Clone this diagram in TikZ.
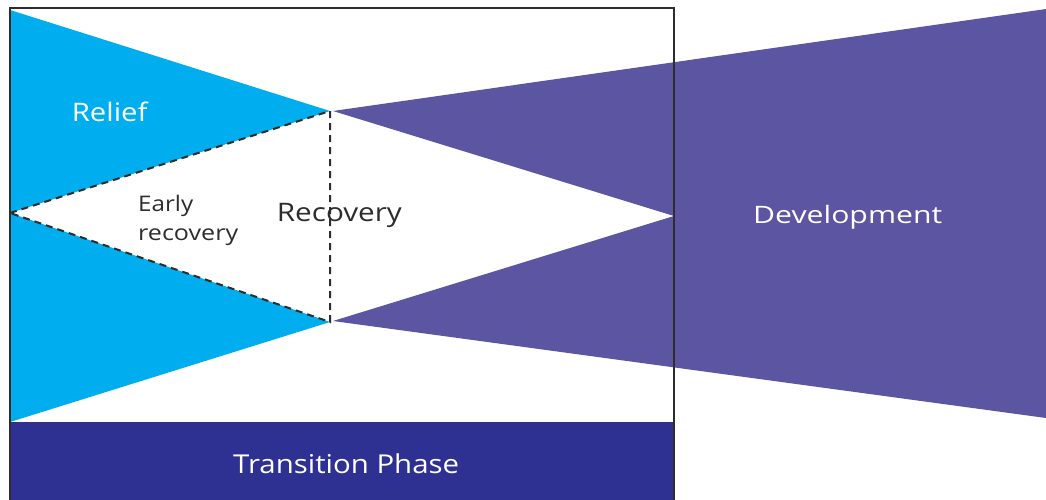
\documentclass[tikz,border=0pt]{standalone}
\usepackage{fontspec}
\setmainfont{Open Sans}
\definecolor{cyanfill}{RGB}{0,174,239}
\definecolor{purplefill}{RGB}{91,85,162}
\definecolor{navyfill}{RGB}{46,49,146}
\definecolor{linegray}{RGB}{45,45,45}
\newcommand{\fitw}[3]{\resizebox{#1pt}{\height}{\fontsize{#2}{#2}\selectfont #3}}
\begin{document}
\begin{tikzpicture}[x=1pt,y=-1pt,
  lbl/.style={inner sep=0pt,anchor=base west},
  wlbl/.style={lbl,text=white},
  dlbl/.style={lbl,text=linegray},
  dashln/.style={draw=linegray,line width=2pt,dash pattern=on 7pt off 5pt},
  frame/.style={draw=linegray,line width=1.6pt}]
\useasboundingbox (0,0) rectangle (1046,500);
\fill[white] (0,0) rectangle (1046,500);
% key points
\coordinate (TL) at (10,10);
\coordinate (ML) at (10,213);
\coordinate (BL) at (10,422);
\coordinate (UA) at (330,111);
\coordinate (LA) at (330,322);
\coordinate (PUA) at (333,111);
\coordinate (PLA) at (333,321);
\coordinate (MR) at (674,216);
\coordinate (TR) at (1046,9);
\coordinate (BR) at (1046,418);
% relief (cyan)
\fill[cyanfill] (TL) -- (UA) -- (ML) -- cycle;
\fill[cyanfill] (ML) -- (LA) -- (BL) -- cycle;
% development (purple)
\fill[purplefill] (PUA) -- (TR) -- (BR) -- (PLA) -- (MR) -- cycle;
% transition bar
\fill[navyfill] (10,422) rectangle (674,500);
% dashed lines
\draw[dashln] (ML) -- (UA) -- (LA) -- cycle;
% frame
\draw[frame] (10,501) -- (10,8) -- (674,8) -- (674,501);
% labels
\node[wlbl] (relief) at (71.7,121.7) {\fitw{75.6}{25.5}{Relief}};
\node[dlbl] (early) at (138,211.7) {\fitw{55}{21.5}{Early}};
\node[dlbl] (early2) at (138,240) {\fitw{100}{21.5}{recovery}};
\node[dlbl] (recovery) at (276.7,221.7) {\fitw{125}{25.5}{Recovery}};
\node[wlbl] (development) at (753,223.3) {\fitw{189}{24}{Development}};
\node[wlbl] (transition) at (233,473) {\fitw{226}{26}{Transition Phase}};
\end{tikzpicture}
\end{document}
